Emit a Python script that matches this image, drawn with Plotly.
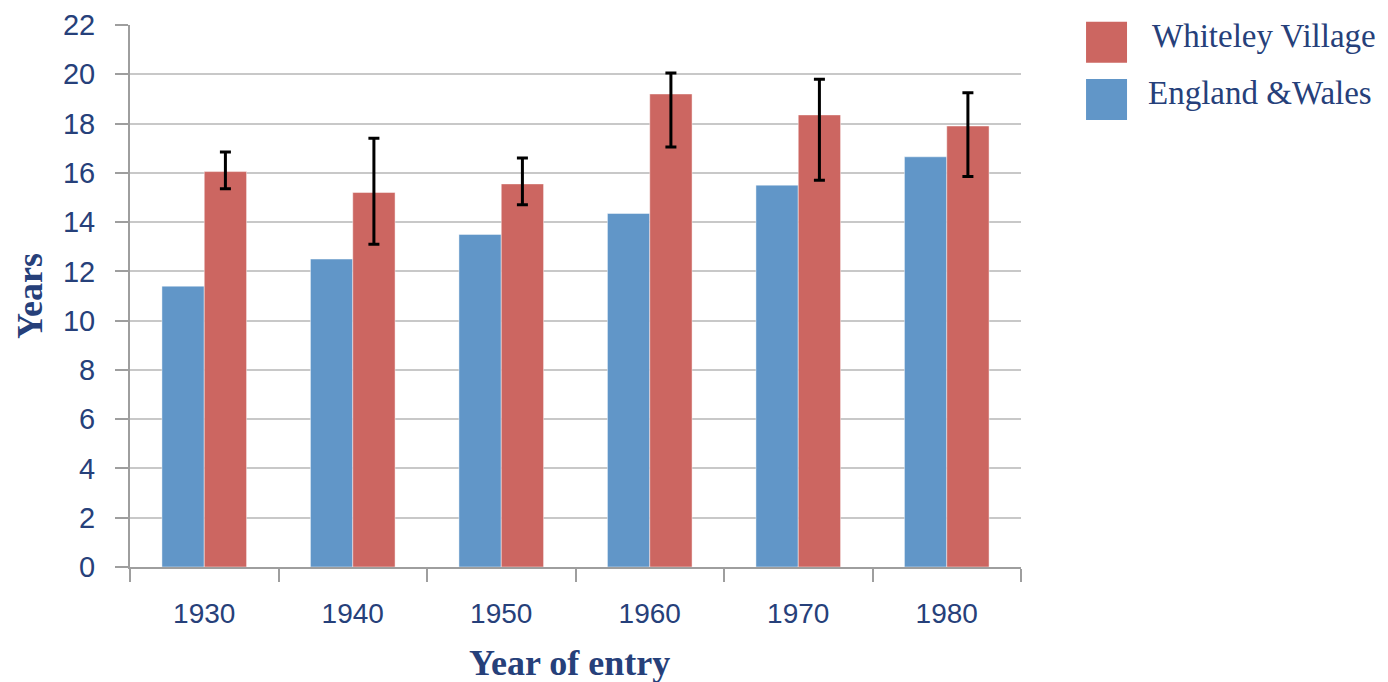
import plotly.graph_objects as go

years = ["1930", "1940", "1950", "1960", "1970", "1980"]
england_wales = [11.4, 12.5, 13.5, 14.35, 15.5, 16.65]
whiteley = [16.05, 15.2, 15.55, 19.2, 18.35, 17.9]
whiteley_err_plus = [0.8, 2.2, 1.05, 0.85, 1.45, 1.35]
whiteley_err_minus = [0.7, 2.1, 0.85, 2.15, 2.65, 2.05]
y_ticks = list(range(0, 23, 2))

BLUE = "#6196C8"
RED = "#CC6661"
NAVY = "#26407A"
GRID = "#C8C8C8"
AXIS = "#9E9E9E"

fig = go.Figure()
fig.add_trace(go.Bar(
    x=years, y=england_wales, name="England &Wales",
    marker=dict(color=BLUE, line=dict(color="rgba(255,255,255,0.45)", width=1)),
    showlegend=False, hoverinfo="skip",
))
fig.add_trace(go.Bar(
    x=years, y=whiteley, name="Whiteley Village",
    marker=dict(color=RED, line=dict(color="rgba(255,255,255,0.45)", width=1)),
    error_y=dict(type="data", symmetric=False, array=whiteley_err_plus,
                 arrayminus=whiteley_err_minus, color="black",
                 thickness=3, width=5.5),
    showlegend=False, hoverinfo="skip",
))

# page body has an 8px margin, so the figure is sized/offset to compensate
fig.update_layout(
    width=1380, height=674,
    margin=dict(l=122, r=367, t=17, b=115, pad=0),
    paper_bgcolor="white", plot_bgcolor="white",
    barmode="group", bargap=0.43, bargroupgap=0,
    showlegend=False,
    font=dict(family="Liberation Sans, Arial, sans-serif", color=NAVY, size=28),
    xaxis=dict(
        type="category", showgrid=False, showline=True, linecolor=AXIS, linewidth=2,
        ticks="outside", tickson="boundaries", ticklen=13, tickcolor=AXIS, tickwidth=2,
        tickfont=dict(family="Liberation Sans, Arial, sans-serif", size=28, color=NAVY),
        ticklabelstandoff=20, automargin=False,
    ),
    yaxis=dict(
        range=[0, 22], tickvals=y_ticks, showgrid=True, gridcolor=GRID, gridwidth=2,
        showline=True, linecolor=AXIS, linewidth=2, zeroline=False,
        ticks="outside", ticklen=13, tickcolor=AXIS, tickwidth=2,
        tickfont=dict(family="Liberation Sans, Arial, sans-serif", size=29, color=NAVY),
        ticklabelstandoff=14, automargin=False,
    ),
)

# Axis titles
fig.add_annotation(text="<b>Years</b>", xref="paper", yref="paper", x=0, y=0.5,
                   xshift=-100, yshift=0, textangle=-90, showarrow=False,
                   xanchor="center", yanchor="middle",
                   font=dict(family="Liberation Serif, Times New Roman, serif", size=36, color=NAVY))
fig.add_annotation(text="<b>Year of entry</b>", xref="paper", yref="paper", x=0.5, y=0,
                   xshift=-6, yshift=-96, showarrow=False,
                   xanchor="center", yanchor="middle",
                   font=dict(family="Liberation Serif, Times New Roman, serif", size=36, color=NAVY))

# Legend (drawn manually to get the large swatches)
legend_items = [("Whiteley Village", RED, 1.0061, 0.9305, 1.1448),
                ("England &Wales", BLUE, 0.9004, 0.8247, 1.1403)]
for label, col, y1, y0, tx in legend_items:
    fig.add_shape(type="rect", xref="paper", yref="paper", x0=1.0730, x1=1.1190,
                  y0=y0, y1=y1, fillcolor=col, line=dict(width=0))
    fig.add_annotation(text=label, xref="paper", yref="paper", x=tx, y=(y0 + y1) / 2,
                       yshift=6, showarrow=False, xanchor="left", yanchor="middle",
                       font=dict(family="Liberation Serif, Times New Roman, serif", size=33, color=NAVY))

fig.write_html("out.html")
